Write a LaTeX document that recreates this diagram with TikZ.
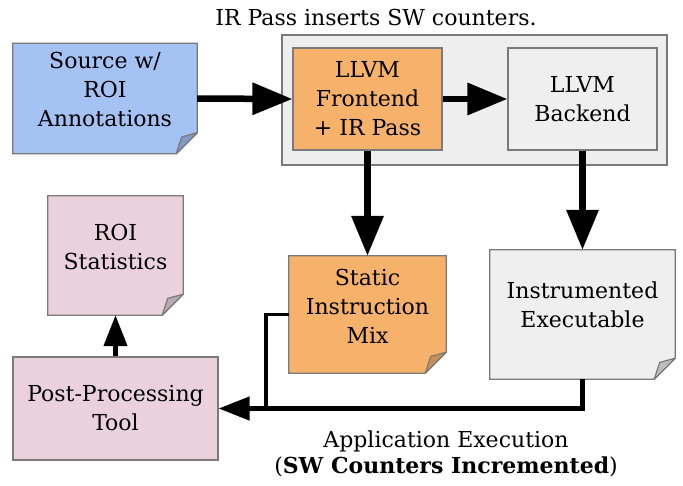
\documentclass[tikz,border=0pt]{standalone}
\usepackage{fontspec}
\setmainfont{DejaVu Serif}
\usetikzlibrary{arrows.meta}

\definecolor{boxgray}{RGB}{122,122,122}
\definecolor{srcblue}{HTML}{A4C2F4}
\definecolor{srcfold}{HTML}{8399C6}
\definecolor{passorange}{HTML}{F6B26B}
\definecolor{passfold}{HTML}{C78F57}
\definecolor{statpink}{HTML}{EAD1DC}
\definecolor{statfold}{HTML}{BBA6B0}
\definecolor{binlight}{HTML}{EFEFEF}
\definecolor{binfold}{HTML}{BEBEBE}
\definecolor{groupgray}{HTML}{EEEEEE}

\def\fold{21pt} % size of the folded corner

\tikzset{
  box/.style={draw=boxgray, line width=1.2pt, inner sep=0pt, align=center},
  docbox/.style={inner sep=0pt},
  txt/.style={align=center, inner sep=0pt, font=\fontsize{22}{29}\selectfont},
  flow/.style={line width=6.5pt, -{Triangle[length=40pt,width=31pt]}},
  thinflow/.style={line width=4.5pt, -{Triangle[length=31pt,width=23pt]}},
  link/.style={line width=3.8pt},
}

% outline of a page with a folded corner round a named node
\newcommand{\foldbox}[3]{%
  \draw[box, fill=#2] (#1.north west) -- (#1.north east) -- ([yshift=\fold]#1.south east)
    -- ([xshift=-\fold]#1.south east) -- (#1.south west) -- cycle;
  \draw[box, fill=#3, line join=round] ([yshift=\fold]#1.south east)
    -- ([xshift=-0.74*\fold, yshift=0.8*\fold]#1.south east)
    -- ([xshift=-\fold]#1.south east) -- cycle;
}

\begin{document}
\begin{tikzpicture}[x=1pt, y=-1pt]
  \useasboundingbox (0,0) rectangle (683,485);

  % compiler group
  \node[box, fill=groupgray, minimum width=385, minimum height=130] (group) at (474.5,100) {};
  \node[txt] (grouplabel) at (376,17) {IR Pass inserts SW counters.};

  % source file
  \node[docbox, minimum width=184, minimum height=110] (src) at (105,98.5) {};
  \foldbox{src}{srcblue}{srcfold}
  \node[txt] (srctext) at (105,89) {Source w/\\ROI\\Annotations};

  % LLVM stages
  \node[box, txt, fill=passorange, minimum width=149, minimum height=102] (fe) at (367.5,99)
    {LLVM\\Frontend\\+ IR Pass};
  \node[box, txt, fill=binlight, minimum width=149, minimum height=102] (be) at (582.5,99)
    {LLVM\\Backend};

  % outputs
  \node[docbox, minimum width=157, minimum height=117] (mix) at (367.5,314.5) {};
  \foldbox{mix}{passorange}{passfold}
  \node[txt] (mixtext) at (367.5,306) {Static\\Instruction\\Mix};

  \node[docbox, minimum width=185, minimum height=129] (exe) at (582.5,314.5) {};
  \foldbox{exe}{binlight}{binfold}
  \node[txt] (exetext) at (582.5,304.5) {Instrumented\\Executable};

  % post processing
  \node[box, txt, fill=statpink, minimum width=205, minimum height=103] (post) at (115.5,408.5)
    {Post-Processing\\Tool};
  \node[docbox, minimum width=135, minimum height=119] (roi) at (115.5,255.5) {};
  \foldbox{roi}{statpink}{statfold}
  \node[txt] (roitext) at (115.5,246.5) {ROI\\Statistics};

  % connectors
  \draw[flow] (src.east) -- (fe.west);
  \draw[flow] (fe.east) -- (be.west);
  \draw[flow] (fe.south) -- (mix.north);
  \draw[flow] (be.south) -- (exe.north);
  \coordinate (merge) at (266,408.5);
  \draw[link] (mix.west) -| (merge);
  \draw[thinflow] (exe.south) |- (post.east);
  \draw[thinflow] (post.north) -- (roi.south);

  \node[txt, font=\fontsize{22}{26}\selectfont] (runlabel) at (446,454)
    {Application Execution\\(\textbf{SW Counters Incremented})};
\end{tikzpicture}
\end{document}
